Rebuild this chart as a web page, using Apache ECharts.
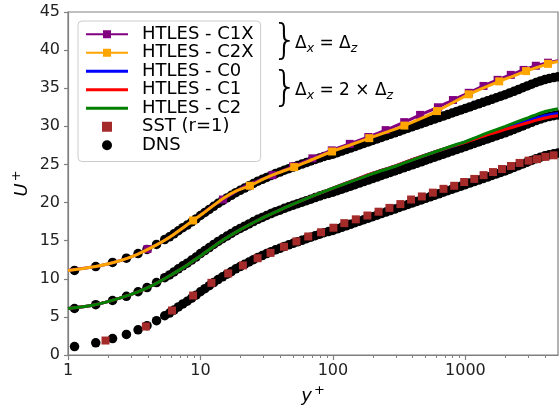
<!DOCTYPE html>
<html><head><meta charset="utf-8">
<script src="https://cdn.jsdelivr.net/npm/echarts@6/dist/echarts.min.js"></script>
<style>html,body{margin:0;padding:0;background:#fff}#c{width:559px;height:410px}</style>
</head><body><div id="c"></div>
<script>
// ---------------- data ----------------
const xTickLabels = [1, 10, 100, 1000];
const xMinorTicks = [2,3,4,5,6,7,8,9,20,30,40,50,60,70,80,90,200,300,400,500,600,700,800,900,2000,3000,4000];
const yTicks = [0,5,10,15,20,25,30,35,40,45];

// group offsets used in the figure
const offsetBottom = 0, offsetMid = 5, offsetTop = 10;

// DNS
const dnsY = [1.12,1.62,2.17,2.76,3.38,3.95,4.66,5.37,5.84,6.31,6.81,7.36,7.94,8.58,9.26,10,10.8,11.66,12.59,13.59,14.68,15.85,17.11,18.48,19.95,21.54,23.26,25.12,27.12,29.29,31.62,34.15,36.87,39.81,42.99,46.42,50.12,54.12,58.43,63.1,68.13,73.56,79.43,85.77,92.61,100,108,116.6,125.9,135.9,146.8,158.5,171.1,184.8,199.5,215.4,232.6,251.2,271.2,292.9,316.2,341.5,368.7,398.1,429.9,464.2,501.2,541.2,584.3,631,681.3,735.6,794.3,857.7,926.1,1000,1080,1166,1259,1359,1468,1585,1711,1848,1995,2154,2326,2512,2712,2929,3162,3415,3687,3981,4299,4642,5000];
const dnsU = [1.1,1.6,2.15,2.7,3.3,3.85,4.5,5.15,5.5,5.9,6.3,6.7,7.05,7.45,7.85,8.3,8.7,9.1,9.5,9.9,10.25,10.6,10.95,11.3,11.6,11.9,12.2,12.5,12.8,13.05,13.3,13.55,13.8,14.0,14.25,14.45,14.65,14.85,15.05,15.25,15.45,15.65,15.85,16.05,16.2,16.35,16.55,16.75,16.95,17.15,17.35,17.55,17.75,17.95,18.15,18.35,18.55,18.75,18.95,19.15,19.35,19.55,19.75,19.95,20.15,20.35,20.55,20.75,20.95,21.15,21.35,21.55,21.75,21.95,22.15,22.35,22.55,22.75,22.95,23.15,23.35,23.55,23.75,23.95,24.15,24.38,24.6,24.83,25.06,25.3,25.53,25.75,25.95,26.13,26.28,26.4,26.5];

// SST (r=1)
const sstY = [1.92,3.87,6.1,8.8,12.1,16.2,20.9,27.0,33.8,42.7,53.0,65.1,81.3,100.8,121.8,148.8,182,221,267,323,389,469,568,683,823,979,1166,1371,1614,1888,2208,2564,2999,3470,4010,4634];
const sstU = [1.9,3.74,5.84,7.8,9.47,10.7,11.75,12.7,13.4,14.2,14.9,15.55,16.1,16.7,17.3,17.8,18.3,18.8,19.3,19.8,20.4,20.8,21.3,21.8,22.2,22.7,23.1,23.6,24.0,24.4,24.8,25.2,25.5,25.7,26.0,26.2];

// HTLES - C1X
const c1xY = [1.0,1.62,2.17,2.76,3.38,3.98,4.66,5.37,6.2,7.4,8.8,10.5,12.5,14.8,20,25,35,50,70,98,134,185,250,345,455,620,805,1060,1370,1750,2200,2750,3400,4200,5000];
const c1xU = [1.1,1.6,2.1,2.65,3.25,3.9,4.45,5.05,5.75,6.7,7.65,8.65,9.6,10.4,11.8,12.6,13.6,14.75,15.8,16.85,17.7,18.6,19.5,20.55,21.5,22.5,23.45,24.4,25.3,26.1,26.75,27.4,27.95,28.35,28.6];
const c1xMarkerY = [3.98,14.8,35,50,70,98,134,185,250,345,455,620,805,1060,1370,1750,2200,2750,3400,4200];

// HTLES - C2X
const c2xY = [1.0,1.3,1.62,2.17,2.76,3.38,4.0,4.66,5.37,6.2,7.4,8.8,10.5,12.5,15,18.5,23.6,30,38,51,70,98.5,135,188,260,346,460,610,800,1060,1370,1800,2300,2870,3500,4200,5000];
const c2xU = [1.1,1.35,1.6,2.1,2.65,3.25,3.85,4.45,5.05,5.75,6.7,7.65,8.6,9.6,10.6,11.5,12.2,13.1,13.85,14.65,15.65,16.7,17.55,18.45,19.3,20.1,21.0,22.0,23.1,24.2,25.05,25.9,26.6,27.25,27.75,28.2,28.5];
const c2xMarkerY = [8.8,23.6,51,98.5,188,346,610,1060,1800,2870,4200];

// HTLES - C0 / C1 / C2
const midY = [1,1.5,2,3,4,5,6,7,8,10,12.5,15,20,25,30,40,50,70,100,150,200,300,400,600,800,1000,1500,2000,2500,3000,3500,4000,4500,5000];
const c0U = [1.1,1.5,2.0,2.95,3.85,4.7,5.5,6.2,6.85,8.0,9.2,10.15,11.45,12.35,13.05,14.05,14.8,15.85,16.9,18.05,18.85,19.85,20.65,21.7,22.4,22.95,24.05,24.75,25.3,25.75,26.1,26.4,26.6,26.7];
const c1U = [1.1,1.5,2.0,2.95,3.85,4.7,5.5,6.2,6.85,8.0,9.2,10.15,11.45,12.35,13.05,14.05,14.8,15.85,16.9,18.05,18.85,19.85,20.65,21.7,22.4,22.9,23.95,24.6,25.1,25.5,25.85,26.1,26.3,26.4];
const c2U = [1.1,1.5,2.0,2.95,3.85,4.7,5.5,6.2,6.85,8.0,9.2,10.15,11.45,12.35,13.05,14.05,14.8,15.85,16.9,18.0,18.8,19.8,20.6,21.7,22.45,23.0,24.2,25.0,25.65,26.15,26.6,26.95,27.15,27.3];

const names = ['HTLES - C1X','HTLES - C2X','HTLES - C0','HTLES - C1','HTLES - C2','SST (r=1)','DNS'];

// ---------------- chart ----------------
const FONT = 'DejaVu Sans';
function pts(xs, us, off) { return xs.map((x, i) => [x, us[i] + off]); }
function markedPts(xs, us, off, marks) {
  return xs.map((x, i) => ({ value: [x, us[i] + off], symbol: marks.indexOf(x) >= 0 ? 'rect' : 'none' }));
}
const dnsData = pts(dnsY, dnsU, offsetBottom).concat(pts(dnsY, dnsU, offsetMid), pts(dnsY, dnsU, offsetTop));
const lineIcon = 'path://M0,0H42V3H0Z';
const squareIcon = 'path://M0,0H8V8H0Z';
const axisGray = '#808080';
const subRich = { n: { fontFamily: FONT, fontSize: 17, fill: '#000' }, sub: { fontFamily: FONT, fontStyle: 'italic', fontSize: 12.5, fill: '#000', padding: [10, 0, 0, 0] } };

const option = {
  animation: false,
  backgroundColor: '#fff',
  textStyle: { fontFamily: FONT },
  grid: { left: 68, right: 1, top: 12, bottom: 55, show: true, borderColor: axisGray, borderWidth: 1.2, containLabel: false, outerBoundsMode: 'none' },
  legend: {
    orient: 'vertical', left: 78, top: 21, selectedMode: false,
    itemWidth: 42, itemHeight: 10, itemGap: 0,
    padding: [4, 7, 7, 7],
    backgroundColor: 'rgba(255,255,255,0.85)', borderColor: '#cccccc', borderWidth: 1, borderRadius: 4,
    textStyle: { fontFamily: FONT, fontSize: 18, color: '#000', lineHeight: 18.5, padding: [0, 0, 0, 9] },
    data: [
      { name: names[0] }, { name: names[1] },
      { name: names[2], icon: lineIcon }, { name: names[3], icon: lineIcon }, { name: names[4], icon: lineIcon },
      { name: names[5], icon: squareIcon }, { name: names[6], icon: 'circle' }
    ]
  },
  xAxis: [{
    type: 'log', logBase: 10, min: 1, max: 5000,
    name: '{i|y}{s|+}', nameLocation: 'middle', nameGap: 29,
    nameTextStyle: { rich: { i: { fontFamily: FONT, fontStyle: 'italic', fontSize: 18, color: '#000' }, s: { fontFamily: FONT, fontSize: 13, color: '#000', padding: [0, 0, 12, 2] } } },
    axisLine: { show: true, lineStyle: { color: axisGray, width: 1.2 } },
    axisTick: { show: true, length: 5, customValues: xTickLabels, lineStyle: { color: axisGray, width: 1.2 } },
    axisLabel: { customValues: xTickLabels, fontFamily: FONT, fontSize: 16, color: '#222', margin: 8, formatter: v => String(Math.round(v)) },
    splitLine: { show: false }, minorTick: { show: false }
  }, {
    type: 'log', logBase: 10, min: 1, max: 5000, position: 'bottom', gridIndex: 0,
    axisLine: { show: false },
    axisTick: { show: true, length: 3, customValues: xMinorTicks, lineStyle: { color: axisGray, width: 1 } },
    axisLabel: { show: false }, splitLine: { show: false }
  }],
  yAxis: {
    type: 'value', min: 0, max: 45, interval: 5,
    name: '{i|U}{s|+}', nameLocation: 'middle', nameGap: 33, nameRotate: 90, nameMoveOverlap: false,
    nameTextStyle: { rich: { i: { fontFamily: FONT, fontStyle: 'italic', fontSize: 18, color: '#000' }, s: { fontFamily: FONT, fontSize: 13, color: '#000', padding: [0, 0, 12, 2] } } },
    axisLine: { show: true, lineStyle: { color: axisGray, width: 1.2 } },
    axisTick: { show: true, length: 4, lineStyle: { color: axisGray, width: 1.2 } },
    axisLabel: { fontFamily: FONT, fontSize: 16, color: '#222', margin: 8, customValues: yTicks },
    splitLine: { show: false }
  },
  series: [
    { name: names[6], type: 'scatter', z: 1, symbol: 'circle', symbolSize: 9.5, itemStyle: { color: '#000', opacity: 1 }, data: dnsData },
    { name: names[0], type: 'line', z: 3, symbol: 'rect', symbolSize: 8, showAllSymbol: true, smooth: 0.2,
      lineStyle: { color: '#800080', width: 3 }, itemStyle: { color: '#800080' }, data: markedPts(c1xY, c1xU, offsetTop, c1xMarkerY) },
    { name: names[1], type: 'line', z: 4, symbol: 'rect', symbolSize: 8, showAllSymbol: true, smooth: 0.2,
      lineStyle: { color: '#ffa500', width: 3 }, itemStyle: { color: '#ffa500' }, data: markedPts(c2xY, c2xU, offsetTop, c2xMarkerY) },
    { name: names[2], type: 'line', z: 3, symbol: 'none', smooth: 0.2, lineStyle: { color: '#0000ff', width: 3 }, itemStyle: { color: '#0000ff' }, data: pts(midY, c0U, offsetMid) },
    { name: names[3], type: 'line', z: 3, symbol: 'none', smooth: 0.2, lineStyle: { color: '#ff0000', width: 3 }, itemStyle: { color: '#ff0000' }, data: pts(midY, c1U, offsetMid) },
    { name: names[4], type: 'line', z: 3, symbol: 'none', smooth: 0.2, lineStyle: { color: '#008000', width: 3 }, itemStyle: { color: '#008000' }, data: pts(midY, c2U, offsetMid) },
    { name: names[5], type: 'scatter', z: 5, symbol: 'rect', symbolSize: 8, itemStyle: { color: '#a52a2a', opacity: 1 }, data: pts(sstY, sstU, offsetBottom) }
  ],
  graphic: [
    { type: 'text', left: 272, top: 22, z: 10, style: { text: '}', fontFamily: FONT, fontWeight: 200, fontSize: 41, fill: '#000' } },
    { type: 'text', left: 272, top: 69, z: 10, style: { text: '}', fontFamily: FONT, fontWeight: 200, fontSize: 41, fill: '#000' } },
    { type: 'text', left: 295, top: 35, z: 10, style: { text: '{n|Δ}{sub|x}{n| = Δ}{sub|z}', rich: subRich } },
    { type: 'text', left: 295, top: 82, z: 10, style: { text: '{n|Δ}{sub|x}{n| = 2 × Δ}{sub|z}', rich: subRich } }
  ]
};
const chart = echarts.init(document.getElementById('c'), null, { renderer: 'canvas' });
chart.setOption(option);
</script></body></html>
